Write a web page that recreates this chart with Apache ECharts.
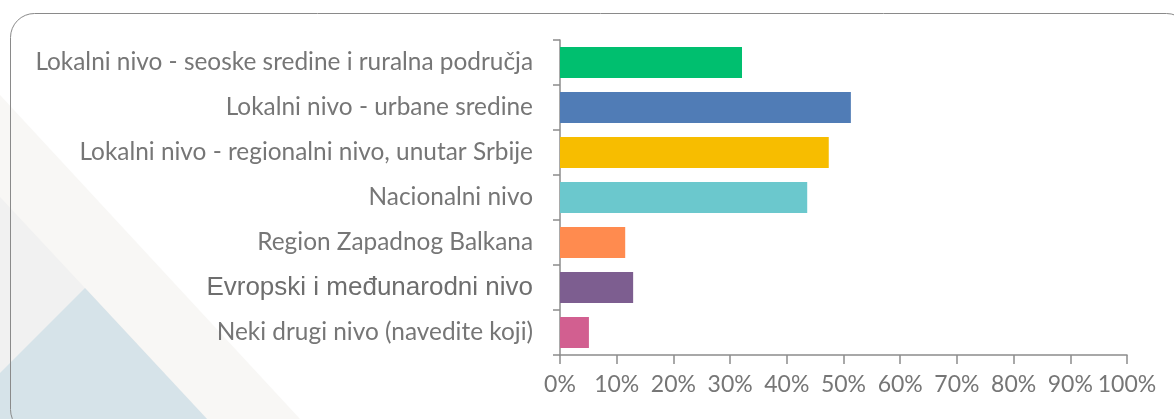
<!DOCTYPE html>
<html>
<head>
<meta charset="utf-8">
<script src="https://cdn.jsdelivr.net/npm/echarts@6/dist/echarts.min.js"></script>
<style>
  html, body { margin: 0; padding: 0; background: #fff; }
  #chart { width: 1174px; height: 419px; }
</style>
</head>
<body>
<div id="chart"></div>
<script>
// categories top to bottom
var categories = [
    'Lokalni nivo - seoske sredine i ruralna područja',
    'Lokalni nivo - urbane sredine',
    'Lokalni nivo - regionalni nivo, unutar Srbije',
    'Nacionalni nivo',
    'Region Zapadnog Balkana',
    'Evropski i međunarodni nivo',
    'Neki drugi nivo (navedite koji)'
];
var values = [32.1, 51.3, 47.4, 43.6, 11.5, 12.9, 5.1];
var barColors = ['#00bf6f', '#507cb6', '#f7bd00', '#6bc8cd', '#ff8b4f', '#7d5e90', '#d25f90'];

var labelColor = '#767676';

var myChart = echarts.init(document.getElementById('chart'));

var option = {
    backgroundColor: '#ffffff',
    animation: false,
    graphic: [
        // faint diagonal shapes in the lower left
        { type: 'polygon', z: -10, shape: { points: [[0, 95], [300, 419], [0, 419]] },
          style: { fill: '#f8f7f5' } },
        { type: 'polygon', z: -9, shape: { points: [[0, 197], [207, 419], [0, 419]] },
          style: { fill: '#f1f1f1' } },
        { type: 'polygon', z: -8, shape: { points: [[0, 373], [85, 288], [207, 419], [0, 419]] },
          style: { fill: '#d6e3e9' } },
        // rounded frame
        { type: 'rect', z: -5, shape: { x: 10.5, y: 13.5, width: 1180, height: 420, r: 24 },
          style: { fill: 'none', stroke: '#8a8a8a', lineWidth: 1 } }
    ],
    grid: {
        left: 560,
        right: 47,
        top: 40,
        bottom: 64,
        containLabel: false
    },
    xAxis: {
        type: 'value',
        min: 0,
        max: 100,
        interval: 10,
        splitLine: { show: false },
        axisLine: { show: true, lineStyle: { color: '#8c8c8c', width: 1.5 } },
        axisTick: { show: true, length: 9, lineStyle: { color: '#8c8c8c', width: 1.5 } },
        axisLabel: {
            margin: 18,
            fontFamily: 'Lato',
            fontSize: 23,
            color: labelColor,
            formatter: '{value}%'
        }
    },
    yAxis: {
        type: 'category',
        inverse: true,
        data: categories,
        axisLine: { show: true, lineStyle: { color: '#8c8c8c', width: 1.5 } },
        axisTick: { show: true, length: 7, lineStyle: { color: '#8c8c8c', width: 1.5 } },
        axisLabel: {
            margin: 27,
            fontFamily: 'Lato',
            fontSize: 24.4,
            color: labelColor,
            formatter: function (val) {
                if (val.indexOf('Evropski') === 0) {
                    return '{ev|' + val + '}';
                }
                return val;
            },
            rich: {
                ev: { fontFamily: 'Liberation Sans', fontSize: 26, color: '#6e6e6e' }
            }
        }
    },
    series: [{
        type: 'bar',
        data: values.map(function (v, i) {
            return { value: v, itemStyle: { color: barColors[i] } };
        }),
        barWidth: 31
    }]
};

myChart.setOption(option);
</script>
</body>
</html>
